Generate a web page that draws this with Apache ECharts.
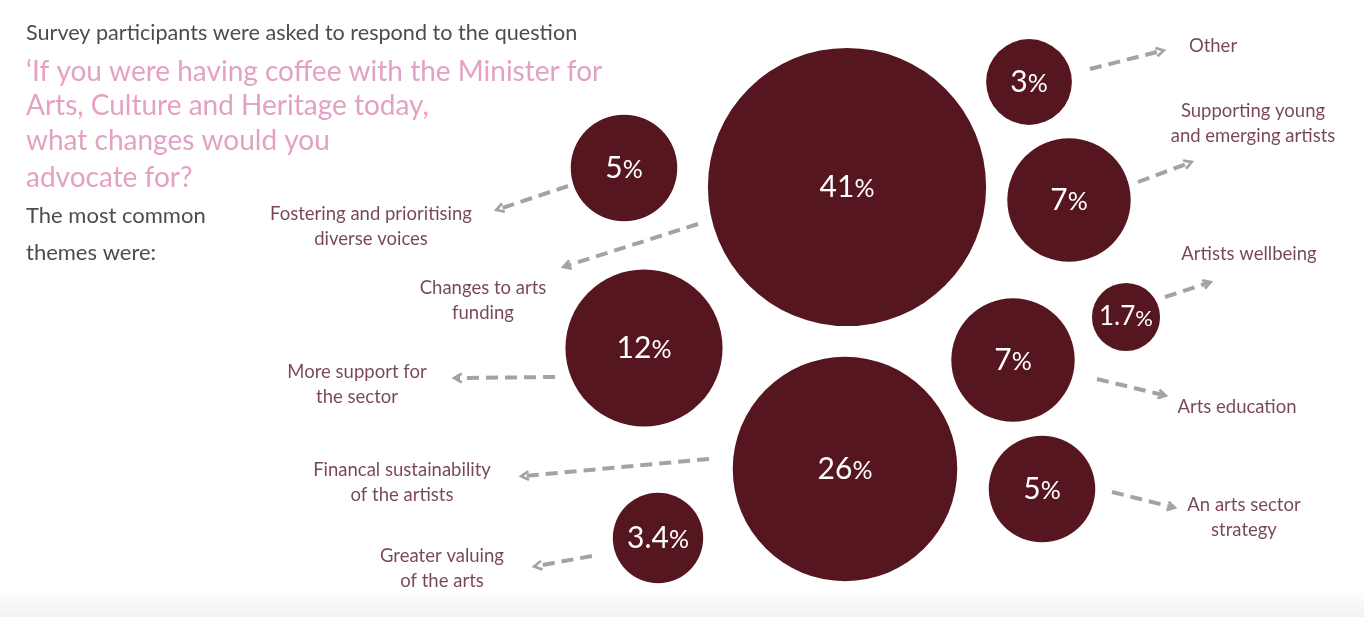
<!DOCTYPE html>
<html><head><meta charset="utf-8">
<script src="https://cdn.jsdelivr.net/npm/echarts@6/dist/echarts.min.js"></script>
<style>html,body{margin:0;padding:0;background:#fff}#c{width:1364px;height:617px}</style>
</head><body><div id="c"></div>
<script>
// ---- data ----
const categories = ['Changes to arts\nfunding','Financal sustainability\nof the artists','More support for\nthe sector','Supporting young\nand emerging artists','Arts education','Fostering and prioritising\ndiverse voices','An arts sector\nstrategy','Greater valuing\nof the arts','Other','Artists wellbeing'];
const values = [41, 26, 12, 7, 7, 5, 5, 3.4, 3, 1.7];
// bubble layout (positions on hidden layout axes)
const bubbleX = [847, 845, 644, 1069, 1013, 624, 1042, 658, 1029, 1126];
const bubbleY = [187, 469, 348, 200, 360, 168, 489, 538, 82, 317];
// theme label layout
const labelX = [483, 402, 357, 1253, 1237, 371, 1244, 442, 1213, 1249];
const labelY = [301, 483, 385, 124, 407, 227, 518, 569, 46, 254];
// connector arrows (from -> to)
const arrowFromX = [698, 709, 555, 1138, 1097, 568, 1112, 592, 1090, 1165];
const arrowFromY = [224, 459, 377, 182, 379, 186, 492, 556, 69, 297];
const arrowToX = [566, 524, 457, 1189, 1163, 499, 1172, 537, 1161, 1208];
const arrowToY = [266, 476, 378, 163, 395, 209, 507, 566, 51, 283];
const headline = 'Survey participants were asked to respond to the question';
const question = ['\u2018If you were having coffee with the Minister for','Arts, Culture and Heritage today,','what changes would you','advocate for?'];
const footnote = ['The most common','themes were:'];

const FONT = 'Lato';
const chart = echarts.init(document.getElementById('c'), null, {renderer:'canvas'});

const graphic = [
  {type:'rect', shape:{x:0,y:588,width:1364,height:29}, style:{fill:new echarts.graphic.LinearGradient(0,0,0,1,[{offset:0,color:'#ffffff'},{offset:1,color:'#f2f2f2'}])}, z:-10},
  {type:'text', x:26, y:33, style:{text:headline, fill:'#4d4d4d', font:'21.6px '+FONT, textVerticalAlign:'middle'}}
];
const qY = [72,106,141,178];
question.forEach((t,i)=>graphic.push({type:'text', x:26, y:qY[i], style:{text:t, fill:'#e3a2c4', font:'28px '+FONT, textVerticalAlign:'middle'}}));
const fY = [216,253];
footnote.forEach((t,i)=>graphic.push({type:'text', x:26, y:fY[i], style:{text:t, fill:'#4d4d4d', font:'22px '+FONT, textVerticalAlign:'middle'}}));

const chevron = 'path://M0,9 L5,0 L10,9 L8,10.5 L5,5 L2,10.5 Z';

chart.setOption({
  animation:false,
  graphic: graphic,
  grid:{left:0,right:0,top:0,bottom:0},
  xAxis:{type:'value', min:0, max:1364, show:false},
  yAxis:{type:'value', min:0, max:617, inverse:true, show:false},
  series:[
    {
      type:'lines', coordinateSystem:'cartesian2d', z:1,
      symbol:['none', chevron], symbolSize:[13,11],
      lineStyle:{color:'#a3a3a3', width:4, type:[12,7], opacity:1},
      itemStyle:{color:'#a3a3a3'},
      data: categories.map((c,i)=>({coords:[[arrowFromX[i],arrowFromY[i]],[arrowToX[i],arrowToY[i]]]}))
    },
    {
      type:'scatter', z:3,
      data: values.map((v,i)=>({value:[bubbleX[i],bubbleY[i],v], label:{rich: v < 2 ? {n:{fontSize:26},p:{fontSize:22}} : {}}})),
      symbolSize: d => 2*(20.6*Math.sqrt(d[2])+7.2),
      itemStyle:{color:'#56161f', opacity:1},
      label:{show:true, position:'inside', color:'#ffffff', fontFamily:FONT,
        formatter: p => '{n|' + p.value[2] + '}{p|%}',
        rich:{n:{fontSize:30, color:'#ffffff', fontFamily:FONT}, p:{fontSize:25, color:'#ffffff', fontFamily:FONT, padding:[3,0,0,0]}}}
    },
    {
      type:'scatter', z:2, symbolSize:0,
      data: categories.map((c,i)=>({value:[labelX[i],labelY[i]], label:{formatter:c}})),
      label:{show:true, position:'inside', color:'#561a27', fontFamily:FONT, fontSize:18.5, lineHeight:25, align:'center'}
    }
  ]
});
</script></body></html>
